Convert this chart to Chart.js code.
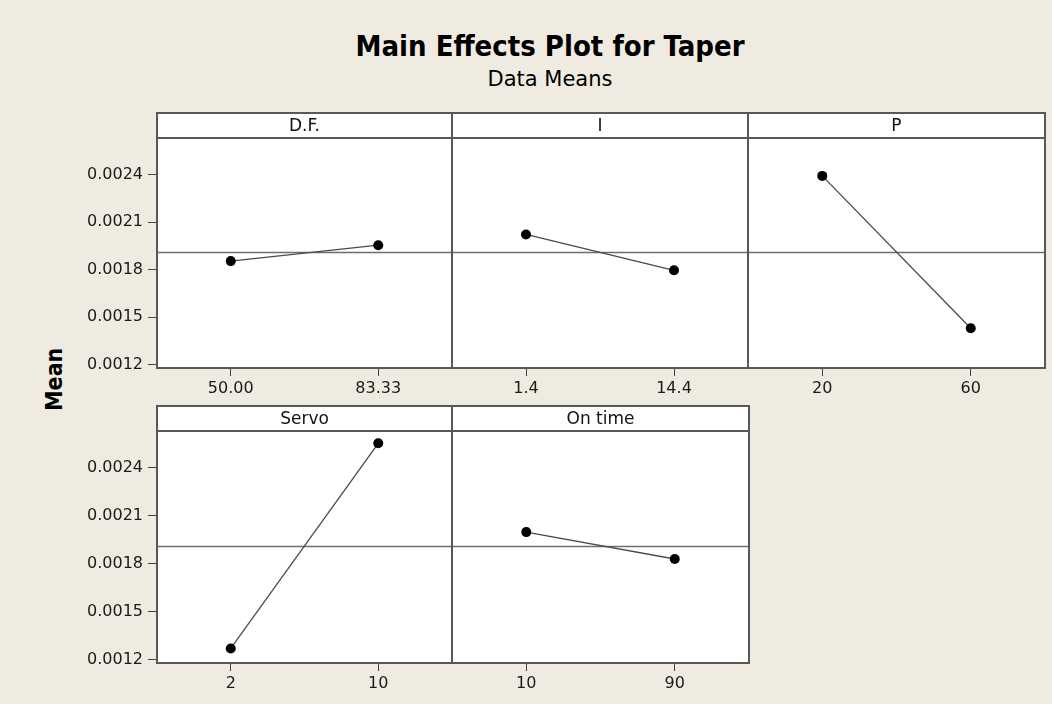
<!DOCTYPE html>
<html>
<head>
<meta charset="utf-8">
<title>Main Effects Plot for Taper</title>
<script src="https://cdn.jsdelivr.net/npm/chart.js@4"></script>
<style>
  html, body { margin: 0; padding: 0; }
  body { width: 1052px; height: 704px; background: #efebe1; position: relative; overflow: hidden; font-family: "DejaVu Sans", sans-serif; }
  canvas { position: absolute; }
  .title { position: absolute; left: 0; width: 1100px; text-align: center; line-height: 1; color: #000; white-space: nowrap; }
  #mainTitle { top: 32px; font: bold 29px "DejaVu Sans Condensed", "DejaVu Sans", sans-serif; line-height: 1; }
  #subTitle { top: 69px; font: 21px "DejaVu Sans", sans-serif; line-height: 1; }
  #yLabel { position: absolute; left: 24px; top: 369px; width: 60px; text-align: center; font: bold 23px "DejaVu Sans Condensed", "DejaVu Sans", sans-serif; line-height: 24px; transform: rotate(-90deg); }
</style>
</head>
<body>
<div class="title" id="mainTitle">Main Effects Plot for Taper</div>
<div class="title" id="subTitle">Data Means</div>
<div id="yLabel">Mean</div>

<script>
// factor levels and the mean of Taper at each level
const dfLevels = ["50.00", "83.33"];
const dfMeans = [0.001854, 0.001954];
const iLevels = ["1.4", "14.4"];
const iMeans = [0.002022, 0.001796];
const pLevels = ["20", "60"];
const pMeans = [0.002391, 0.001431];
const servoLevels = ["2", "10"];
const servoMeans = [0.001271, 0.002553];
const onTimeLevels = ["10", "90"];
const onTimeMeans = [0.001998, 0.001830];

const grandMean = 0.00191;
const yTicks = [0.0012, 0.0015, 0.0018, 0.0021, 0.0024];
const yMin = 0.00118;
const yMax = 0.00263;

const HEADER = 25;
const Y_AXIS_W = 97;
const X_AXIS_H = 40;

Chart.defaults.font.family = "'DejaVu Sans', sans-serif";
Chart.defaults.color = "#222";

// one entry per panel: title, data and where the panel sits
const panels = [
  { name: "D.F.",    labels: dfLevels,     means: dfMeans,     left: 157, right: 452, top: 113, bottom: 368, yAxis: true },
  { name: "I",       labels: iLevels,      means: iMeans,      left: 452, right: 748, top: 113, bottom: 368, yAxis: false },
  { name: "P",       labels: pLevels,      means: pMeans,      left: 748, right: 1045, top: 113, bottom: 368, yAxis: false },
  { name: "Servo",   labels: servoLevels,  means: servoMeans,  left: 157, right: 452, top: 406, bottom: 663, yAxis: true },
  { name: "On time", labels: onTimeLevels, means: onTimeMeans, left: 452, right: 749, top: 406, bottom: 663, yAxis: false }
];

const panelFrame = {
  id: "panelFrame",
  beforeDraw(chart) {
    const { ctx, chartArea: a } = chart;
    ctx.save();
    ctx.fillStyle = "#ffffff";
    ctx.fillRect(a.left, a.top - HEADER, a.right - a.left, a.bottom - a.top + HEADER);
    ctx.restore();
  },
  beforeDatasetsDraw(chart) {
    const { ctx, chartArea: a } = chart;
    const y = Math.round(chart.scales.y.getPixelForValue(grandMean)) + 0.5;
    ctx.save();
    ctx.strokeStyle = "#6e6e6e";
    ctx.lineWidth = 1.5;
    ctx.beginPath();
    ctx.moveTo(a.left, y);
    ctx.lineTo(a.right, y);
    ctx.stroke();
    ctx.restore();
  },
  afterDraw(chart, args, opts) {
    const { ctx, chartArea: a } = chart;
    const top = a.top - HEADER;
    ctx.save();
    ctx.strokeStyle = "#585858";
    ctx.lineWidth = 2;
    ctx.strokeRect(a.left, top, a.right - a.left, a.bottom - top);
    ctx.beginPath();
    ctx.moveTo(a.left, a.top);
    ctx.lineTo(a.right, a.top);
    ctx.stroke();
    ctx.fillStyle = "#111";
    ctx.font = "17px 'DejaVu Sans', sans-serif";
    ctx.textAlign = "center";
    ctx.textBaseline = "middle";
    ctx.fillText(opts.title, (a.left + a.right) / 2, top + HEADER / 2 + 1);
    ctx.restore();
  }
};

panels.forEach(p => {
  const canvas = document.createElement("canvas");
  const cLeft = p.left - (p.yAxis ? Y_AXIS_W : 2);
  const cTop = p.top - 5;
  const w = p.right + 3 - cLeft;
  const h = (p.bottom - cTop) + X_AXIS_H;
  canvas.width = w;
  canvas.height = h;
  canvas.style.left = cLeft + "px";
  canvas.style.top = cTop + "px";
  canvas.style.width = w + "px";
  canvas.style.height = h + "px";
  document.body.appendChild(canvas);

  new Chart(canvas, {
    type: "line",
    data: {
      labels: p.labels,
      datasets: [{
        label: p.name,
        data: p.means,
        borderColor: "#4a4a4a",
        borderWidth: 1.3,
        pointRadius: 5,
        pointHoverRadius: 5,
        pointBackgroundColor: "#000",
        pointBorderColor: "#000",
        pointBorderWidth: 0,
        tension: 0,
        clip: false
      }]
    },
    options: {
      responsive: false,
      animation: false,
      devicePixelRatio: 1,
      layout: { autoPadding: false, padding: { top: 5 + HEADER, right: 3, left: p.yAxis ? 0 : 2, bottom: 0 } },
      plugins: {
        legend: { display: false },
        tooltip: { enabled: false },
        panelFrame: { title: p.name }
      },
      scales: {
        x: {
          type: "category",
          offset: true,
          grid: { offset: false, drawOnChartArea: false, drawTicks: true, tickLength: 8, color: "#444", lineWidth: 1 },
          border: { display: false },
          ticks: { padding: 3, maxRotation: 0, color: "#1a1a1a", font: { size: 16 } },
          afterFit(scale) { scale.height = X_AXIS_H; }
        },
        y: {
          display: p.yAxis,
          min: yMin,
          max: yMax,
          afterBuildTicks(scale) { scale.ticks = yTicks.map(v => ({ value: v })); },
          grid: { drawOnChartArea: false, drawTicks: true, tickLength: 9, color: "#444", lineWidth: 1 },
          border: { display: false },
          ticks: {
            padding: 5,
            color: "#1a1a1a",
            font: { size: 16 },
            callback: v => Number(v).toFixed(4)
          },
          afterFit(scale) { scale.width = p.yAxis ? Y_AXIS_W : 0; }
        }
      }
    },
    plugins: [panelFrame]
  });
});
</script>
</body>
</html>
